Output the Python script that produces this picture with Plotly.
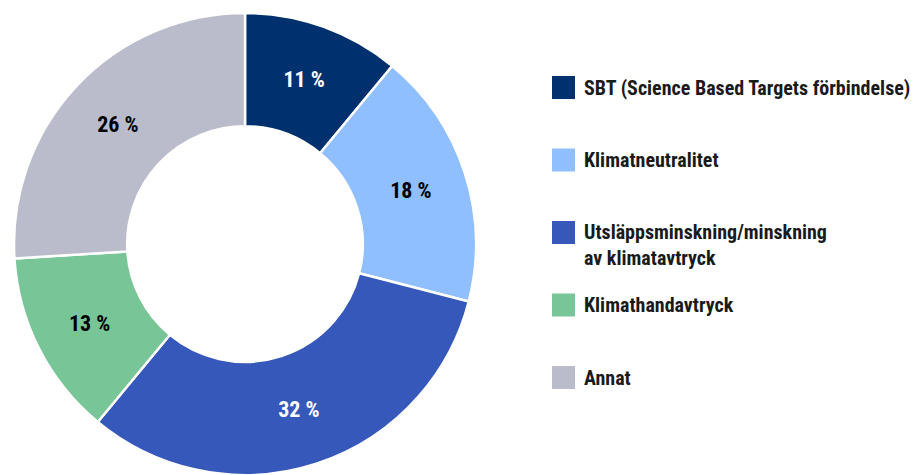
import plotly.graph_objects as go

labels = [
    "SBT (Science Based Targets förbindelse)",
    "Klimatneutralitet",
    "Utsläppsminskning/minskning<br>av klimatavtryck",
    "Klimathandavtryck",
    "Annat",
]
values = [11, 18, 32, 13, 26]
colors = ["#00306E", "#8FBFFF", "#3558BA", "#78C597", "#BBBCCB"]
text_colors = ["white", "black", "white", "black", "black"]

W, H = 914, 475
FONT = "Roboto Condensed, Liberation Sans Narrow, sans-serif"

# donut geometry in pixels
cx, cy, r = 245, 244, 231

fig = go.Figure()
fig.add_trace(go.Pie(
    labels=labels,
    values=values,
    text=[f"{v} %" for v in values],
    textinfo="text",
    textposition="inside",
    insidetextorientation="horizontal",
    insidetextfont=dict(family=FONT, size=22, color=text_colors, weight="bold"),
    marker=dict(colors=colors, line=dict(color="white", width=2.5)),
    hole=0.51,
    sort=False,
    direction="clockwise",
    rotation=0,
    showlegend=False,
    hoverinfo="label+text",
    domain=dict(x=[(cx - r) / W, (cx + r) / W], y=[(H - cy - r) / H, (H - cy + r) / H]),
))

# custom legend with large square swatches
sq = 23
sx = 552
tx = 582
y0 = 87.5
step = 72.5
line_h = 25
for i, (lab, col) in enumerate(zip(labels, colors)):
    yc = y0 + step * i
    fig.add_shape(type="rect", xref="paper", yref="paper",
                  x0=sx / W, x1=(sx + sq) / W,
                  y0=1 - (yc + sq / 2) / H, y1=1 - (yc - sq / 2) / H,
                  fillcolor=col, line=dict(width=0))
    nlines = lab.count("<br>") + 1
    ymid = yc + (nlines - 1) * line_h / 2
    fig.add_annotation(x=tx / W, y=1 - ymid / H, xref="paper", yref="paper",
                       xanchor="left", yanchor="middle", showarrow=False,
                       align="left", text=lab,
                       font=dict(family=FONT, size=20, color="#1a1a1a", weight="bold"))

fig.update_layout(
    width=W, height=H,
    margin=dict(l=0, r=0, t=0, b=0),
    paper_bgcolor="white",
    plot_bgcolor="white",
    font=dict(family=FONT),
)

fig.write_html("out.html", config={"displayModeBar": False},
               post_script="document.body.style.margin='0';")
